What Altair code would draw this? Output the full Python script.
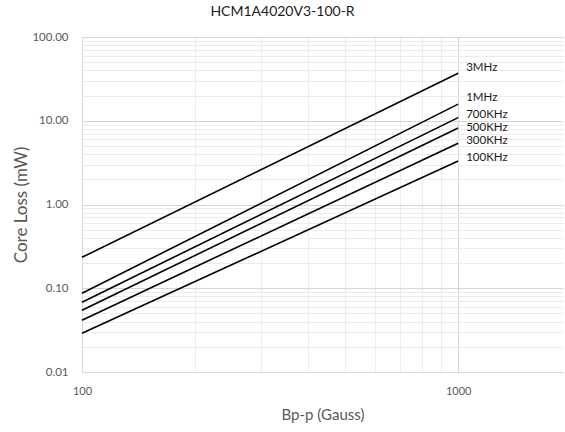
import altair as alt
import pandas as pd

series = ["3MHz", "1MHz", "700KHz", "500KHz", "300KHz", "100KHz"]
b_start = [100] * 6
b_end = [1000] * 6
loss_start = [0.234, 0.087, 0.068, 0.0546, 0.0415, 0.029]
loss_end = [37.0, 15.8, 10.9, 8.2, 5.4, 3.3]
label_y = [43.0, 18.8, 11.8, 8.24, 5.77, 3.61]

x_grid = [100, 200, 300, 400, 500, 600, 700, 800, 900, 1000]
y_grid = [m * 10.0 ** e for e in range(-2, 2) for m in range(1, 10)] + [100.0]

rows = []
for s, b0, b1, l0, l1 in zip(series, b_start, b_end, loss_start, loss_end):
    rows.append({"series": s, "B": b0, "loss": l0})
    rows.append({"series": s, "B": b1, "loss": l1})
df = pd.DataFrame(rows)
lab = pd.DataFrame({"series": series, "B": b_end, "y": label_y})

FONT = "Lato"
major_test_y = "abs(log(datum.value)/LN10 - round(log(datum.value)/LN10)) < 1e-6"

xscale = alt.Scale(type="log", domain=[100, 1900], nice=False)
yscale = alt.Scale(type="log", domain=[0.01, 100], nice=False)

xaxis = alt.Axis(
    title="Bp-p (Gauss)", values=x_grid,
    labelExpr="datum.value == 100 || datum.value == 1000 ? format(datum.value, 'd') : ''",
    grid=True,
    gridColor={"condition": {"test": "datum.value == 100 || datum.value == 1000", "value": "#d6d6d6"}, "value": "#ececec"},
    ticks=False, domainColor="#d9d9d9", labelColor="#595959", titleColor="#595959",
    labelFontSize=11, titleFontSize=15, titleFontWeight="normal", labelPadding=13, titlePadding=11,
    labelFont=FONT, titleFont=FONT, labelFlush=False,
)
yaxis = alt.Axis(
    title="Core Loss (mW)", values=y_grid,
    labelExpr=f"({major_test_y}) ? format(datum.value, '.2f') : ''",
    grid=True,
    gridColor={"condition": {"test": major_test_y, "value": "#d6d6d6"}, "value": "#ececec"},
    ticks=False, domainColor="#d9d9d9", labelColor="#595959", titleColor="#595959",
    labelFontSize=11.5, titleFontSize=17, titleFontWeight="normal", labelPadding=14, titlePadding=1,
    labelFont=FONT, titleFont=FONT, labelFlush=False,
)

lines = alt.Chart(df).mark_line(color="black", strokeWidth=1.6).encode(
    x=alt.X("B:Q", scale=xscale, axis=xaxis),
    y=alt.Y("loss:Q", scale=yscale, axis=yaxis),
    detail="series:N",
)
labels = alt.Chart(lab).mark_text(align="left", baseline="middle", dx=8, fontSize=11.5, font=FONT, color="#1a1a1a").encode(
    x=alt.X("B:Q", scale=xscale),
    y=alt.Y("y:Q", scale=yscale),
    text="series:N",
)

chart = alt.layer(lines, labels).properties(
    width=481, height=335,
    title=alt.TitleParams("HCM1A4020V3-100-R", fontSize=14, font=FONT, fontWeight="normal", color="#1a1a1a", offset=12, anchor="middle", dx=-40),
    autosize=alt.AutoSizeParams(type="none"),
    padding={"left": 82, "top": 37, "right": 2, "bottom": 60},
).configure_view(stroke=None)

chart.save("out.html", embed_options={"renderer": "svg", "actions": False})
